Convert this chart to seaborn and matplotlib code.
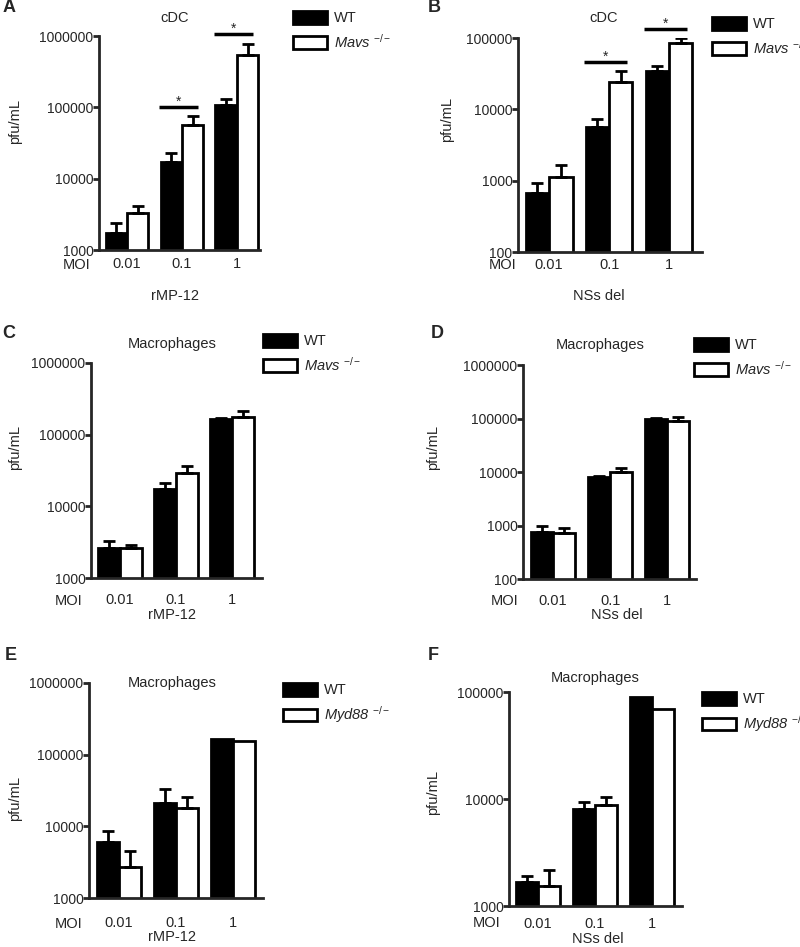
import numpy as np
import pandas as pd
import seaborn as sns
import matplotlib.pyplot as plt
from matplotlib.patches import Patch
from matplotlib.ticker import FixedLocator, FuncFormatter, NullLocator

sns.set_style("ticks")
plt.rcParams['font.family'] = ['Liberation Sans', 'DejaVu Sans']
plt.rcParams['mathtext.fontset'] = 'custom'
plt.rcParams['mathtext.rm'] = 'Liberation Sans'
plt.rcParams['mathtext.it'] = 'Liberation Sans:italic'

# Datos (pfu/mL, media y SEM)
moi = ["0.01", "0.1", "1"]

a_wt = [1740, 17000, 108000]
a_wt_sem = [650, 6000, 23000]
a_ko = [3300, 56500, 540000]
a_ko_sem = [850, 19500, 230000]

b_wt = [670, 5650, 34500]
b_wt_sem = [260, 1650, 6000]
b_ko = [1130, 24000, 85000]
b_ko_sem = [520, 10500, 15000]

c_wt = [2630, 17500, 165000]
c_wt_sem = [650, 3800, 4000]
c_ko = [2600, 29000, 178000]
c_ko_sem = [280, 7500, 37000]

d_wt = [755, 8100, 100000]
d_wt_sem = [225, 200, 1000]
d_ko = [725, 10000, 90000]
d_ko_sem = [175, 1800, 17000]

e_wt = [6000, 21200, 165000]
e_wt_sem = [2600, 11800, 0]
e_ko = [2700, 18000, 155000]
e_ko_sem = [1800, 8000, 0]

f_wt = [1670, 8100, 90000]
f_wt_sem = [240, 1300, 0]
f_ko = [1540, 8700, 69000]
f_ko_sem = [630, 1700, 0]

# significancia: (grupo, altura de la barra)
a_sig = [(1, 100000), (2, 1070000)]
b_sig = [(1, 46000), (2, 134000)]

W, H = 800, 947
fig = plt.figure(figsize=(W / 100, H / 100), dpi=100)
FS = 10.5


def ftext(x, y, s, **kw):
    kw.setdefault("ha", "center")
    kw.setdefault("va", "center")
    kw.setdefault("fontsize", FS)
    fig.text(x / W, 1 - y / H, s, **kw)


def panel(rect, wt, wt_sem, ko, ko_sem, ko_name, yticks, xlim, tickpad,
          leg_xy, sig=None):
    l, t, r, b = rect
    ax = fig.add_axes([l / W, 1 - b / H, (r - l) / W, (b - t) / H])
    df = pd.DataFrame({
        "moi": moi * 2,
        "genotype": ["WT"] * 3 + ["KO"] * 3,
        "pfu": wt + ko,
    })
    sns.barplot(data=df, x="moi", y="pfu", hue="genotype", order=moi,
                hue_order=["WT", "KO"], palette={"WT": "black", "KO": "white"},
                edgecolor="black", linewidth=2, errorbar=None, width=0.78,
                gap=0, legend=False, ax=ax)
    ax.set_yscale("log")
    # barras de error solo hacia arriba
    for cont, sems in zip(ax.containers, [wt_sem, ko_sem]):
        for bar, s in zip(cont, sems):
            if s <= 0:
                continue
            xc = bar.get_x() + bar.get_width() / 2
            top = bar.get_y() + bar.get_height()
            ax.errorbar([xc], [top], yerr=[[0], [s]], fmt="none", ecolor="black",
                        elinewidth=2, capsize=4.5, capthick=2, zorder=1)
    ax.set_ylim(yticks[0], yticks[-1])
    ax.set_xlim(*xlim)
    ax.yaxis.set_major_locator(FixedLocator(yticks))
    ax.yaxis.set_minor_locator(NullLocator())
    ax.yaxis.set_major_formatter(FuncFormatter(lambda v, p: f"{int(round(v))}"))
    sns.despine(ax=ax)
    for sp in ["left", "bottom"]:
        ax.spines[sp].set_linewidth(2)
    ax.tick_params(axis="y", length=4, width=2, pad=0, labelsize=10)
    ax.tick_params(axis="x", length=0, pad=tickpad, labelsize=FS)
    ax.set_xlabel("")
    ax.set_ylabel("")
    if sig:
        for g, y in sig:
            ax.plot([g - 0.42, g + 0.3], [y, y], color="black", lw=2.5,
                    clip_on=False, solid_capstyle="butt")
            ax.text(g - 0.06, y * 1.04, "*", ha="center", va="baseline",
                    fontsize=10)
    handles = [Patch(facecolor="black", edgecolor="black", lw=2),
               Patch(facecolor="white", edgecolor="black", lw=2)]
    labels = ["WT", ko_name + r" $^{-/-}$"]
    lx, ly = leg_xy
    leg = ax.legend(handles, labels, loc="upper left",
                    bbox_to_anchor=(lx / W, 1 - ly / H),
                    bbox_transform=fig.transFigure,
                    frameon=False, borderpad=0, borderaxespad=0,
                    handlelength=2.3, handleheight=0.95, handletextpad=0.5,
                    labelspacing=0.5, fontsize=FS)
    leg.get_texts()[1].set_fontstyle("italic")
    return ax


panel((99, 36, 260, 250), a_wt, a_wt_sem, a_ko, a_ko_sem, "Mavs",
      [1e3, 1e4, 1e5, 1e6], (-0.51, 2.42), 5, (293, 11), a_sig)
panel((518, 38, 702, 252), b_wt, b_wt_sem, b_ko, b_ko_sem, "Mavs",
      [1e2, 1e3, 1e4, 1e5], (-0.52, 2.55), 4, (712, 17), b_sig)
panel((91, 363, 262, 578), c_wt, c_wt_sem, c_ko, c_ko_sem, "Mavs",
      [1e3, 1e4, 1e5, 1e6], (-0.52, 2.54), 11, (263, 334))
panel((523, 365, 696, 579), d_wt, d_wt_sem, d_ko, d_ko_sem, "Mavs",
      [1e2, 1e3, 1e4, 1e5, 1e6], (-0.53, 2.51), 10.5, (694, 338))
panel((89, 683, 263, 898), e_wt, e_wt_sem, e_ko, e_ko_sem, "Myd88",
      [1e3, 1e4, 1e5, 1e6], (-0.53, 2.53), 13, (283, 683))
panel((509, 692, 682, 906), f_wt, f_wt_sem, f_ko, f_ko_sem, "Myd88",
      [1e3, 1e4, 1e5], (-0.51, 2.53), 8, (702, 692))

# letras de panel
for s, x, y in [("A", 9, 7), ("B", 434, 7), ("C", 9, 333), ("D", 437, 333),
                ("E", 11, 656), ("F", 433, 656)]:
    ftext(x, y, s, fontsize=13, fontweight="bold")

# titulos
for s, x, y in [("cDC", 175, 18), ("cDC", 604, 18), ("Macrophages", 172, 344),
                ("Macrophages", 600, 345), ("Macrophages", 172, 683),
                ("Macrophages", 595, 678)]:
    ftext(x, y, s)

# MOI
for x, y in [(77, 265), (503, 265), (69, 601), (505, 601), (69, 924), (487, 923)]:
    ftext(x, y, "MOI")

# virus
for s, x, y in [("rMP-12", 175, 296), ("NSs del", 599, 296), ("rMP-12", 172, 615),
                ("NSs del", 617, 615), ("rMP-12", 172, 937), ("NSs del", 598, 939)]:
    ftext(x, y, s)

# eje y
for x, y in [(15, 122), (447, 120), (15, 447), (433, 447), (15, 798), (433, 792)]:
    ftext(x, y, "pfu/mL", rotation=90)

fig.savefig("out.png", dpi=100)
